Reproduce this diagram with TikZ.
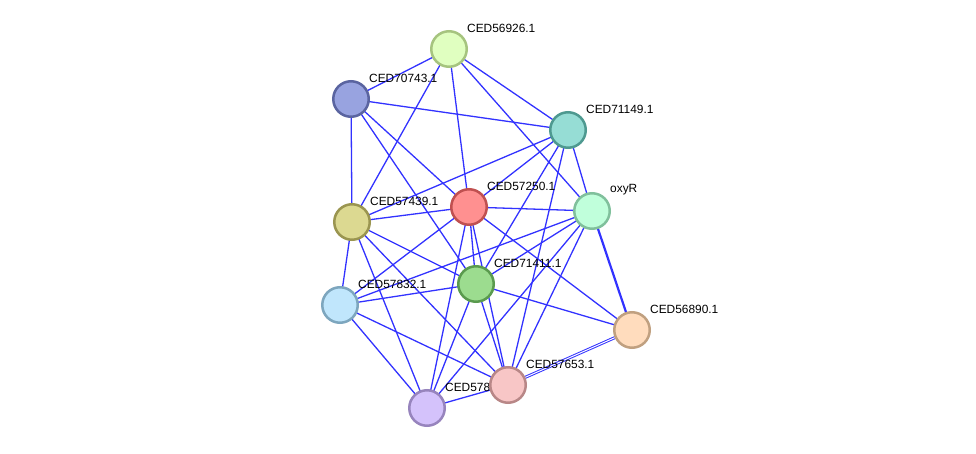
\documentclass[tikz,border=0pt]{standalone}
\usepackage{fontspec}
\setmainfont{Liberation Sans}
\usetikzlibrary{backgrounds}
\definecolor{edgeblue}{RGB}{50,50,255}
\definecolor{bA}{RGB}{166,196,127}\definecolor{fA}{RGB}{224,255,192}
\definecolor{bB}{RGB}{90,100,160}\definecolor{fB}{RGB}{152,163,224}
\definecolor{bC}{RGB}{78,153,144}\definecolor{fC}{RGB}{150,221,213}
\definecolor{bD}{RGB}{192,80,80}\definecolor{fD}{RGB}{255,144,144}
\definecolor{bE}{RGB}{128,192,156}\definecolor{fE}{RGB}{192,255,219}
\definecolor{bF}{RGB}{154,149,80}\definecolor{fF}{RGB}{220,217,145}
\definecolor{bG}{RGB}{90,154,78}\definecolor{fG}{RGB}{156,220,143}
\definecolor{bH}{RGB}{125,166,190}\definecolor{fH}{RGB}{192,230,252}
\definecolor{bI}{RGB}{192,160,128}\definecolor{fI}{RGB}{255,220,189}
\definecolor{bJ}{RGB}{184,135,135}\definecolor{fJ}{RGB}{248,198,198}
\definecolor{bK}{RGB}{151,132,189}\definecolor{fK}{RGB}{212,194,251}
\tikzset{
  prot/.style={circle, draw=b#1, fill=f#1, line width=2.5pt, minimum size=35.5pt, inner sep=0pt},
  edge/.style={draw=edgeblue, line width=1.3pt},
  thickedge/.style={draw=edgeblue, line width=2.2pt},
  dedge/.style={draw=edgeblue, line width=1pt, double=white, double distance=1pt},
  lab/.style={anchor=west, inner sep=0pt, font=\fontsize{11.9}{13}\selectfont, text=black}
}
\begin{document}
\begin{tikzpicture}[x=1pt, y=-1pt]
\useasboundingbox (0,0) rectangle (976,454);
% nodes
\node[prot=A] (A) at (449,49) {};
\node[lab] (lA) at (467,28) {CED56926.1};
\node[prot=B] (B) at (351,99) {};
\node[lab] (lB) at (369,78) {CED70743.1};
\node[prot=C] (C) at (568,130) {};
\node[lab] (lC) at (586,109) {CED71149.1};
\node[prot=D] (D) at (469,207) {};
\node[lab] (lD) at (487,186) {CED57250.1};
\node[prot=E] (E) at (592,211) {};
\node[lab] (lE) at (610,190) {oxyR};
\node[prot=F] (F) at (352,222) {};
\node[lab] (lF) at (370,201) {CED57439.1};
\node[prot=G] (G) at (476,284) {};
\node[lab] (lG) at (494,263) {CED71411.1};
\node[prot=H] (H) at (340,305) {};
\node[lab] (lH) at (358,284) {CED57832.1};
\node[prot=I] (I) at (632,330) {};
\node[lab] (lI) at (650,309) {CED56890.1};
\node[prot=K] (K) at (427,408) {};
\node[lab] (lK) at (445,387) {CED578};
\node[prot=J] (J) at (508,385) {};
\node[lab] (lJ) at (526,364) {CED57653.1};
% edges
\begin{scope}[on background layer]
\draw[edge] (A.center) -- (B.center);
\draw[edge] (A.center) -- (F.center);
\draw[edge] (A.center) -- (D.center);
\draw[edge] (A.center) -- (C.center);
\draw[edge] (A.center) -- (E.center);
\draw[edge] (B.center) -- (C.center);
\draw[edge] (B.center) -- (F.center);
\draw[edge] (B.center) -- (D.center);
\draw[edge] (B.center) -- (G.center);
\draw[edge] (C.center) -- (F.center);
\draw[edge] (C.center) -- (D.center);
\draw[edge] (C.center) -- (G.center);
\draw[edge] (C.center) -- (J.center);
\draw[edge] (C.center) -- (E.center);
\draw[edge] (D.center) -- (E.center);
\draw[edge] (D.center) -- (F.center);
\draw[edge] (D.center) -- (H.center);
\draw[edge] (D.center) -- (K.center);
\draw[edge] (D.center) -- (G.center);
\draw[edge] (D.center) -- (J.center);
\draw[edge] (D.center) -- (I.center);
\draw[edge] (E.center) -- (H.center);
\draw[edge] (E.center) -- (G.center);
\draw[edge] (E.center) -- (K.center);
\draw[edge] (E.center) -- (J.center);
\draw[thickedge] (E.center) -- (I.center);
\draw[edge] (F.center) -- (G.center);
\draw[edge] (F.center) -- (J.center);
\draw[edge] (F.center) -- (K.center);
\draw[edge] (F.center) -- (H.center);
\draw[edge] (G.center) -- (H.center);
\draw[edge] (G.center) -- (I.center);
\draw[edge] (G.center) -- (J.center);
\draw[edge] (G.center) -- (K.center);
\draw[edge] (H.center) -- (J.center);
\draw[edge] (H.center) -- (K.center);
\draw[dedge] (I.center) -- (J.center);
\draw[edge] (J.center) -- (K.center);
\end{scope}
\end{tikzpicture}
\end{document}
